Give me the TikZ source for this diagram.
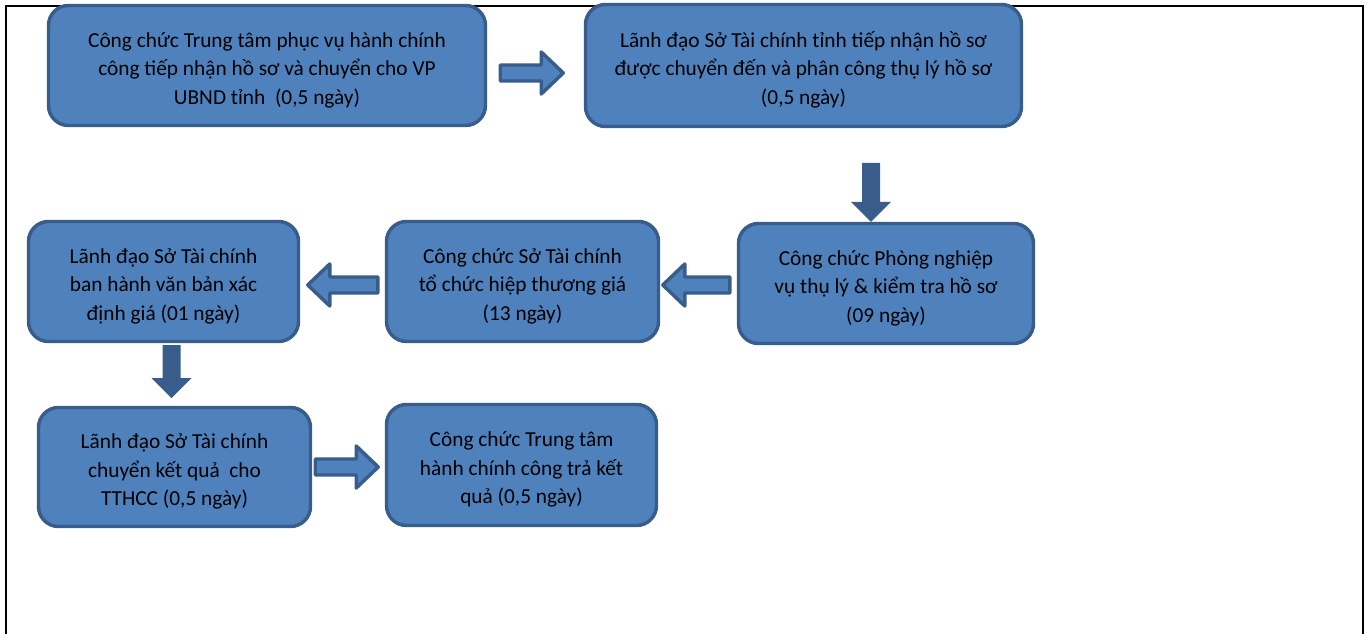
\documentclass[tikz,border=0pt]{standalone}
\usepackage{fontspec}
\setmainfont{Carlito}
\usetikzlibrary{calc}

\definecolor{boxfill}{HTML}{4F81BD}
\definecolor{boxline}{HTML}{385D8A}

\tikzstyle{stepbox}=[rectangle,rounded corners=15pt,draw=boxline,fill=boxfill,line width=2.6pt,align=center,inner sep=0pt,font=\fontsize{16}{21.3}\selectfont]
\tikzstyle{frameline}=[line width=2.2pt,black]
\tikzset{
  pics/harrow/.style={code={
    \draw[boxline,fill=boxfill,line width=2.6pt,line join=round]
      (0,-8) -- ({#1-22},-8) -- ({#1-22},-21) -- (#1,0) -- ({#1-22},21) -- ({#1-22},8) -- (0,8) -- cycle;}},
  pics/varrow/.style={code={
    \fill[boxline]
      (0,-9) -- ({#1-20},-9) -- ({#1-20},-20) -- (#1,0) -- ({#1-20},20) -- ({#1-20},9) -- (0,9) -- cycle;}}
}

\begin{document}
\begin{tikzpicture}[x=0.75pt,y=-0.75pt]
        \useasboundingbox (0,0) rectangle (1371,634);
        % frame
        \draw[frameline] (6,634) -- (6,6) -- (1363,6) -- (1363,634);

        \node[stepbox,minimum width=437pt*0.75,minimum height=120pt*0.75] (tiepnhan) at (267,65.5)
          {\rule{0pt}{18pt}Công chức Trung tâm phục vụ hành chính\\công tiếp nhận hồ sơ và chuyển cho VP\\UBND tỉnh \ (0,5 ngày)};
        \node[stepbox,minimum width=436pt*0.75,minimum height=122pt*0.75] (phancong) at (803.5,65.5)
          {\rule{0pt}{18pt}Lãnh đạo Sở Tài chính tỉnh tiếp nhận hồ sơ\\được chuyển đến và phân công thụ lý hồ sơ\\(0,5 ngày)};
        \node[stepbox,minimum width=295pt*0.75,minimum height=120pt*0.75] (thuly) at (886,283.5)
          {\rule{0pt}{18pt}Công chức Phòng nghiệp\\vụ thụ lý \& kiểm tra hồ sơ\\(09 ngày)};
        \node[stepbox,minimum width=272pt*0.75,minimum height=120pt*0.75] (hiepthuong) at (522.5,281.5)
          {\rule{0pt}{18pt}Công chức Sở Tài chính\\tổ chức hiệp thương giá\\(13 ngày)};
        \node[stepbox,minimum width=270pt*0.75,minimum height=120pt*0.75] (banhanh) at (163.5,281.5)
          {\rule{0pt}{18pt}Lãnh đạo Sở Tài chính\\ban hành văn bản xác\\định giá (01 ngày)};
        \node[stepbox,minimum width=272pt*0.75,minimum height=119pt*0.75] (chuyenkq) at (174.5,467)
          {\rule{0pt}{18pt}Lãnh đạo Sở Tài chính\\chuyển kết quả \ cho\\TTHCC (0,5 ngày)};
        \node[stepbox,minimum width=270pt*0.75,minimum height=121pt*0.75] (trakq) at (521.5,465)
          {\rule{0pt}{18pt}Công chức Trung tâm\\hành chính công trả kết\\quả (0,5 ngày)};

        % block arrows between steps
        \pic at ($(tiepnhan.east)+(13,7.5)$) {harrow=63};
        \pic[rotate=-90] at ($(thuly.north)+(-15,-59)$) {varrow=59};
        \pic[rotate=180] at ($(thuly.west)+(-7,1.5)$) {harrow=67};
        \pic[rotate=180] at ($(hiepthuong.west)+(-7,3.5)$) {harrow=70};
        \pic[rotate=-90] at ($(banhanh.south)+(8,2)$) {varrow=53};
        \pic at ($(chuyenkq.east)+(3,0)$) {harrow=63};
\end{tikzpicture}
\end{document}
